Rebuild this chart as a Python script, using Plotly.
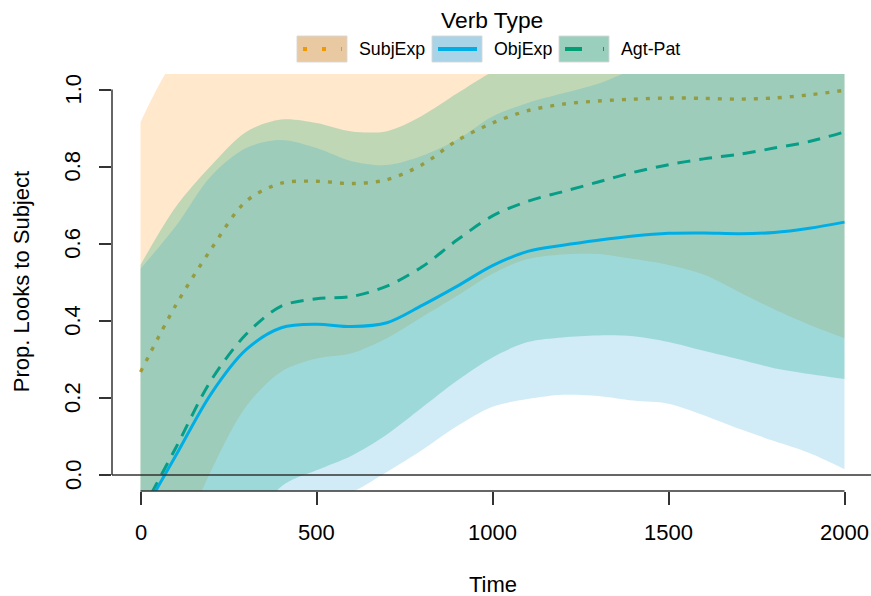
import plotly.graph_objects as go

# ---- data -------------------------------------------------------------
time_ms = [0, 100, 200, 300, 400, 500, 600, 700, 800, 900, 1000,
           1100, 1200, 1300, 1400, 1500, 1600, 1700, 1800, 1900, 2000]

subj_fit = [0.267, 0.44, 0.585, 0.71, 0.757, 0.762, 0.756, 0.766, 0.805, 0.868, 0.913,
            0.945, 0.962, 0.970, 0.975, 0.978, 0.977, 0.975, 0.978, 0.986, 0.998]
subj_lo = [-0.38, -0.20, 0.01, 0.178, 0.268, 0.302, 0.316, 0.355, 0.41, 0.465, 0.522,
           0.560, 0.572, 0.573, 0.560, 0.545, 0.520, 0.475, 0.430, 0.390, 0.355]
subj_hi = [0.915, 1.08, 1.15, 1.235, 1.246, 1.222, 1.196, 1.177, 1.20, 1.271, 1.304,
           1.33, 1.352, 1.367, 1.39, 1.411, 1.434, 1.475, 1.526, 1.582, 1.641]

obj_fit = [-0.11, 0.05, 0.21, 0.325, 0.382, 0.391, 0.385, 0.395, 0.44, 0.49, 0.543,
           0.58, 0.596, 0.609, 0.62, 0.627, 0.628, 0.626, 0.629, 0.64, 0.656]
obj_lo = [-0.76, -0.55, -0.355, -0.20, -0.105, -0.068, -0.044, 0.008, 0.065, 0.127, 0.177,
          0.197, 0.208, 0.205, 0.193, 0.185, 0.155, 0.12, 0.088, 0.057, 0.015]
obj_hi = [0.535, 0.645, 0.775, 0.848, 0.869, 0.848, 0.814, 0.804, 0.828, 0.87, 0.93,
          0.965, 0.99, 1.015, 1.05, 1.068, 1.096, 1.132, 1.17, 1.225, 1.297]

agt_fit = [-0.10, 0.07, 0.245, 0.365, 0.438, 0.457, 0.463, 0.49, 0.54, 0.61, 0.672,
           0.71, 0.735, 0.76, 0.785, 0.805, 0.82, 0.832, 0.848, 0.865, 0.89]
agt_lo = [-0.745, -0.555, -0.31, -0.16, -0.03, 0.012, 0.05, 0.105, 0.175, 0.245, 0.305,
          0.345, 0.357, 0.362, 0.36, 0.345, 0.322, 0.30, 0.277, 0.262, 0.249]
agt_hi = [0.545, 0.695, 0.802, 0.89, 0.922, 0.913, 0.891, 0.892, 0.932, 0.99, 1.045,
          1.075, 1.113, 1.158, 1.21, 1.265, 1.32, 1.364, 1.419, 1.468, 1.531]

verb_types = ["SubjExp", "ObjExp", "Agt-Pat"]
x_ticks = [0, 500, 1000, 1500, 2000]
x_tick_labels = ["0", "500", "1000", "1500", "2000"]
y_ticks = [0.0, 0.2, 0.4, 0.6, 0.8, 1.0]
y_tick_labels = ["0.0", "0.2", "0.4", "0.6", "0.8", "1.0"]

# ---- styling ----------------------------------------------------------
FONT = "Liberation Sans, Arial, Helvetica, sans-serif"
AXIS_COL = "#333333"
TXT = 22
W, H = 871, 596
L, R, T, B = 112, 0, 74, 105
PW, PH = W - L - R, H - T - B

styles = {
    "SubjExp": dict(line="#EE9A00", fill="rgba(255,140,0,0.20)", dash="4px,8px",
                    key_fill="#E9C9A1", key_dash="4px,15px"),
    "Agt-Pat": dict(line="#009E73", fill="rgba(0,164,112,0.25)", dash="13px,9px",
                    key_fill="#9BCFBD", key_dash="17px,21px"),
    "ObjExp": dict(line="#00AEE6", fill="rgba(30,160,215,0.20)", dash="solid",
                   key_fill="#A9D3E7", key_dash="solid"),
}

series = {
    "SubjExp": (subj_fit, subj_lo, subj_hi),
    "Agt-Pat": (agt_fit, agt_lo, agt_hi),
    "ObjExp": (obj_fit, obj_lo, obj_hi),
}

fig = go.Figure()

# confidence band (lower edge, then upper edge filled down to it), then fit line
for name in ["SubjExp", "Agt-Pat", "ObjExp"]:
    fit, lo, hi = series[name]
    st = styles[name]
    fig.add_trace(go.Scatter(x=time_ms, y=lo, mode="lines",
                             line=dict(width=0, shape="spline", smoothing=0.9),
                             showlegend=False, hoverinfo="skip"))
    fig.add_trace(go.Scatter(x=time_ms, y=hi, mode="lines", fill="tonexty",
                             fillcolor=st["fill"],
                             line=dict(width=0, shape="spline", smoothing=0.9),
                             showlegend=False, hoverinfo="skip"))
    fig.add_trace(go.Scatter(x=time_ms, y=fit, mode="lines", name=name,
                             line=dict(color=st["line"],
                                       width=3.4 if name == "SubjExp" else 3,
                                       dash=st["dash"],
                                       shape="spline", smoothing=0.9),
                             showlegend=False))


def px_x(p):
    return (p - L) / PW


def px_y(p):
    return (H - B - p) / PH


shapes = [
    # horizontal reference at zero
    dict(type="line", xref="paper", yref="y", x0=0, x1=1, y0=0, y1=0,
         line=dict(color=AXIS_COL, width=1.5)),
    # y axis line from 0 to 1
    dict(type="line", xref="paper", yref="y", x0=0, x1=0, y0=0, y1=1,
         line=dict(color=AXIS_COL, width=1.5)),
    # x axis line from 0 to 2000
    dict(type="line", xref="x", yref="paper", x0=0, x1=2000, y0=0, y1=0,
         line=dict(color=AXIS_COL, width=1.5)),
]

annotations = []
for v, t in zip(x_ticks, x_tick_labels):
    annotations.append(dict(x=v, xref="x", y=px_y(532), yref="paper", text=t,
                            showarrow=False, xanchor="center", yanchor="middle",
                            font=dict(family=FONT, size=TXT, color="black")))
for v, t in zip(y_ticks, y_tick_labels):
    annotations.append(dict(x=px_x(73), xref="paper", y=v, yref="y", text=t,
                            showarrow=False, xanchor="center", yanchor="middle",
                            textangle=-90,
                            font=dict(family=FONT, size=TXT, color="black")))
annotations.append(dict(x=1000, xref="x", y=px_y(584), yref="paper", text="Time",
                        showarrow=False, xanchor="center", yanchor="middle",
                        font=dict(family=FONT, size=TXT, color="black")))
annotations.append(dict(x=px_x(21), xref="paper", y=0.5, yref="y",
                        text="Prop. Looks to Subject", showarrow=False,
                        xanchor="center", yanchor="middle", textangle=-90,
                        font=dict(family=FONT, size=TXT, color="black")))

# legend drawn above the panel
annotations.append(dict(x=px_x(492), xref="paper", y=px_y(20), yref="paper",
                        text="Verb Type", showarrow=False, xanchor="center",
                        yanchor="middle",
                        font=dict(family=FONT, size=22.8, color="black")))
key_left = {"SubjExp": 297, "ObjExp": 432, "Agt-Pat": 559}
for name in verb_types:
    st = styles[name]
    x0 = key_left[name]
    shapes.append(dict(type="rect", xref="paper", yref="paper",
                       x0=px_x(x0), x1=px_x(x0 + 50), y0=px_y(62), y1=px_y(36),
                       fillcolor=st["key_fill"],
                       line=dict(color="rgba(215,215,215,0.9)", width=1)))
    shapes.append(dict(type="line", xref="paper", yref="paper",
                       x0=px_x(x0 + 6), x1=px_x(x0 + 45), y0=px_y(49), y1=px_y(49),
                       line=dict(color=st["line"], width=4, dash=st["key_dash"])))
    annotations.append(dict(x=px_x(x0 + 60), xref="paper", y=px_y(49), yref="paper",
                            text=name, showarrow=False, xanchor="left",
                            yanchor="middle",
                            font=dict(family=FONT, size=17.8, color="black")))

x_per_px = 2000 / (844.5 - 140.5)
y_per_px = 1.0 / (475 - 89.5)
fig.update_layout(
    width=W, height=H,
    margin=dict(l=L, r=R, t=T, b=B, pad=0),
    paper_bgcolor="white", plot_bgcolor="white",
    showlegend=False,
    shapes=shapes, annotations=annotations,
    xaxis=dict(range=[-(140.5 - L) * x_per_px, (W - R - 140.5) * x_per_px],
               showgrid=False, zeroline=False, showline=False,
               ticks="outside", ticklen=13, tickwidth=1.5, tickcolor=AXIS_COL,
               tickvals=x_ticks, showticklabels=False, fixedrange=True),
    yaxis=dict(range=[-(491 - 475) * y_per_px, (475 - T) * y_per_px],
               showgrid=False, zeroline=False, showline=False,
               ticks="outside", ticklen=12, tickwidth=1.5, tickcolor=AXIS_COL,
               tickvals=y_ticks, showticklabels=False, fixedrange=True),
)

fig.write_html("out.html", config={"displayModeBar": False})
